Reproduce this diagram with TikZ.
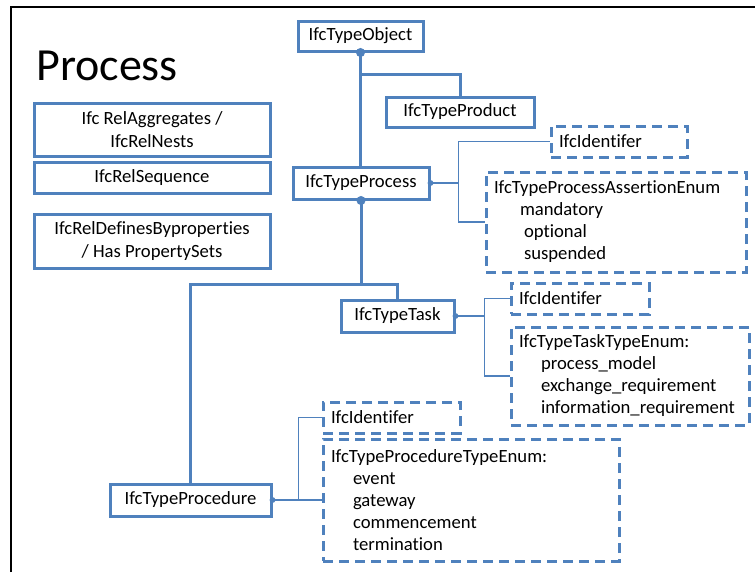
\documentclass[tikz,border=0pt]{standalone}
\usepackage{fontspec}
\setmainfont{Carlito}[Ligatures=NoCommon]
\definecolor{ifcblue}{RGB}{79,129,189}
\begin{document}
\begin{tikzpicture}[x=0.75pt, y=-0.75pt,
    every node/.style={font=\fontsize{14}{17.5}\selectfont},
    typebox/.style={draw=ifcblue, line width=2.25pt, inner xsep=6pt, inner ysep=0pt, align=center},
    enumbox/.style={draw=ifcblue, line width=2.25pt, dash pattern=on 7.5pt off 4.5pt, inner xsep=6pt, inner ysep=0pt, align=left, font=\fontsize{14}{16.5}\selectfont},
    link/.style={draw=ifcblue, line width=2.25pt},
    thinlink/.style={draw=ifcblue, line width=0.8pt}]
    \useasboundingbox (0,0) rectangle (755,572);
    \draw[line width=1.5pt] (11,572) -- (11,7) -- (755,7);
    \node[anchor=base west, inner sep=0pt, font=\fontsize{34.5}{38}\selectfont] (title) at (36,80) {Process};
    % relationship boxes
    \node[typebox, minimum width=177pt, minimum height=39.75pt] (aggregates) at (152,129.5) {Ifc RelAggregates /\\IfcRelNests};
    \node[typebox, minimum width=177pt, minimum height=23.25pt] (sequence) at (152,177.5) {IfcRelSequence};
    \node[typebox, minimum width=177pt, minimum height=40.5pt] (definesby) at (152,241) {IfcRelDefinesByproperties\\/ Has PropertySets};
    % type objects
    \node[typebox, minimum width=93.75pt, minimum height=22.5pt] (obj) at (360.5,36) {IfcTypeObject};
    \node[typebox, minimum width=111pt, minimum height=22.5pt] (product) at (460,112) {IfcTypeProduct};
    \node[typebox, minimum width=102pt, minimum height=24pt] (process) at (361,183) {IfcTypeProcess};
    \node[typebox, minimum width=84.75pt, minimum height=24pt] (task) at (397.5,316) {IfcTypeTask};
    \node[typebox, minimum width=120.75pt, minimum height=24pt] (procedure) at (190.5,500) {IfcTypeProcedure};
    % attributes
    \node[enumbox, text width=90pt, minimum height=23.25pt] (procid) at (619,141.5) {IfcIdentifer};
    \node[enumbox, text width=183pt, minimum height=75pt] (procassert) at (616,222) {IfcTypeProcessAssertionEnum\\\hspace*{19.5pt}mandatory\\\hspace*{22.5pt}optional\\\hspace*{22.5pt}suspended};
    \node[enumbox, text width=91.5pt, minimum height=23.25pt] (taskid) at (580,298.5) {IfcIdentifer};
    \node[enumbox, text width=166.5pt, minimum height=73.5pt] (taskenum) at (630,376) {IfcTypeTaskTypeEnum:\\\hspace*{16.5pt}process\_model\\\hspace*{16.5pt}exchange\_requirement\\\hspace*{16.5pt}information\_requirement};
    \node[enumbox, text width=90.75pt, minimum height=23.25pt] (procedureid) at (391.5,417.5) {IfcIdentifer};
    \node[enumbox, text width=210pt, minimum height=91.5pt] (procedureenum) at (471,500) {IfcTypeProcedureTypeEnum:\\\hspace*{16.5pt}event\\\hspace*{16.5pt}gateway\\\hspace*{16.5pt}commencement\\\hspace*{16.5pt}termination};
    % inheritance
    \draw[link] (obj.south) -- (obj.south |- process.north);
    \draw[link] (obj.south) ++(0,22) -| (product.north);
    \draw[link] (process.south) -- ++(0,84) coordinate (split);
    \draw[link] (procedure.north) |- (split) -| (task.north);
    % attribute links
    \draw[thinlink] (process.east) -- ++(28,0) coordinate (pj);
    \draw[thinlink] (procid.west) -| (pj) |- (procassert.west);
    \draw[thinlink] (task.east) -- ++(29,0) coordinate (tj);
    \draw[thinlink] (taskid.west) -| (tj) |- (taskenum.west);
    \draw[thinlink] (procedure.east) -- ++(26,0) coordinate (cj);
    \draw[thinlink] (procedureid.west) -| (cj) |- (procedureenum.west);
    \fill[ifcblue] (obj.south) circle (3.4pt) (process.south) circle (3.4pt);
    \fill[ifcblue] (process.east) circle (2.2pt) (task.east) circle (2.2pt) (procedure.east) circle (2.2pt);
\end{tikzpicture}
\end{document}
